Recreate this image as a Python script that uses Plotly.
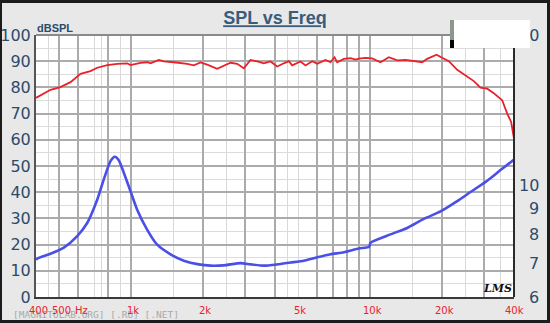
import math
import plotly.graph_objects as go

# SPL response (Hz, dB SPL)
spl_freq = [400, 405, 460, 506, 558, 614, 676, 722, 795, 875, 963, 994, 1094, 1168, 1206,
            1306, 1370, 1509, 1717, 1830, 1952, 2082, 2292, 2605, 2779, 2962, 3159, 3370,
            3592, 3830, 4085, 4355, 4569, 4720, 5115, 5369, 5724, 6009, 6508, 6829, 7097,
            7284, 7764, 8281, 8690, 8970, 9560, 10200, 11050, 11980, 12980, 14070, 15240,
            16520, 17330, 18960, 20030, 21350, 23140, 25080, 27160, 28960, 30900, 32920,
            35690, 37470, 38920, 40000]
spl_db = [76.0, 76.3, 79.1, 80.1, 82.0, 85.2, 86.2, 87.5, 88.5, 89.0, 89.2, 88.5, 89.4, 89.6, 89.2,
          90.5, 89.9, 89.6, 89.0, 88.4, 89.5, 88.7, 87.1, 89.4, 89.0, 87.3, 90.5, 89.9,
          89.2, 89.9, 88.0, 89.2, 90.0, 88.4, 89.9, 88.4, 90.0, 89.0, 90.5, 89.6, 91.5,
          89.6, 90.9, 91.2, 90.6, 91.0, 91.3, 91.1, 89.6, 91.5, 90.3, 90.5, 90.0,
          89.6, 90.9, 92.5, 91.3, 90.0, 86.7, 84.6, 82.4, 79.9, 79.5, 77.8,
          75.1, 70.0, 66.8, 60.5]

# Impedance (Hz, ohm)
imp_freq = [400, 405, 460, 523, 595, 655, 722, 768, 820, 855, 888, 932, 994, 1060, 1168, 1286,
            1462, 1661, 1920, 2149, 2436, 2869, 3159, 3592, 4085, 4645, 5279, 6009, 6829,
            7764, 8970, 9900, 10050, 12170, 14300, 16780, 19700, 23140, 26310, 30900,
            35120, 40000]
imp_ohm = [7.12, 7.16, 7.32, 7.53, 7.94, 8.43, 9.39, 10.29, 11.20, 11.43, 11.25, 10.62, 9.76, 8.96, 8.17, 7.63,
           7.30, 7.09, 6.97, 6.93, 6.94, 7.01, 6.97, 6.93, 6.97, 7.03, 7.09, 7.20, 7.30,
           7.37, 7.50, 7.56, 7.70, 8.00, 8.24, 8.59, 8.89, 9.32, 9.72, 10.24,
           10.75, 11.28]

# Axis ticks and labels
freq_label_vals = [400, 500, 1000, 2000, 5000, 10000, 20000, 40000]
freq_label_text = ["400", "500", "1k", "2k", "5k", "10k", "20k", "40k"]
freq_unit = "Hz"
grid_major = [500, 600, 800, 1000, 2000, 3000, 4000, 6000, 7000, 8000, 9000,
              10000, 20000, 30000]
grid_minor = [450, 700, 750, 900, 1500, 2500, 4500, 5000, 15000, 25000, 35000]
db_ticks = list(range(0, 101, 10))
db_minor = list(range(5, 100, 10))
ohm_ticks = [6, 7, 8, 9, 10, 20]
ohm_text = ["6", "7", "8", "9", "10", "20"]

W, H = 550, 323
L, R, T, B = 36, 514, 35, 297


def px(x):
    return (x - L) / (R - L)


def py(y):
    return (B - y) / (B - T)


label_blue = "#2c4b6b"
label_font = dict(family="DejaVu Sans", size=16, color=label_blue)

fig = go.Figure()
fig.add_trace(go.Scatter(x=spl_freq, y=spl_db, mode="lines",
                         line=dict(color="#e8212b", width=1.8), yaxis="y"))
fig.add_trace(go.Scatter(x=imp_freq, y=imp_ohm, mode="lines",
                         line=dict(color="#4a4fe6", width=2.6, shape="spline", smoothing=0.6),
                         yaxis="y2"))

annotations = []
# watermark along the bottom edge
annotations.append(dict(xref="paper", yref="paper", x=px(11), y=py(314), xanchor="left",
                        yanchor="middle", showarrow=False, text="[MAGNITOLAB.ORG] [.RU] [.NET]",
                        font=dict(family="DejaVu Sans Mono", size=9.5, color="#a9a9a9")))
# frequency labels
for f, t in zip(freq_label_vals, freq_label_text):
    annotations.append(dict(xref="x", yref="paper", x=math.log10(f), y=py(310),
                            xanchor="center", yanchor="middle", showarrow=False, text=t,
                            xshift=2 if f < 40000 else 0,
                            font=dict(family="DejaVu Sans", size=10, color="#e8212b")))
annotations.append(dict(xref="x", yref="paper", x=math.log10(500), y=py(310),
                        xanchor="left", yanchor="middle", showarrow=False, text=freq_unit,
                        xshift=14, font=dict(family="DejaVu Sans", size=10, color="#e8212b")))
# impedance scale on the right
for v, t in zip(ohm_ticks, ohm_text):
    annotations.append(dict(xref="paper", yref="y2", x=px(541), y=math.log10(v),
                            xanchor="right", yanchor="middle", showarrow=False, text=t,
                            font=label_font))
# blank box over the top right corner
annotations.append(dict(xref="paper", yref="paper", x=px(454), y=py(20), xanchor="left",
                        yanchor="top", showarrow=False, text="", width=76, height=28,
                        bgcolor="white", borderpad=0, borderwidth=0))
# unit label and logo
annotations.append(dict(xref="paper", yref="paper", x=px(35), y=py(28), xanchor="left",
                        yanchor="middle", showarrow=False, text="<b>dBSPL</b>",
                        font=dict(family="Liberation Sans", size=11, color=label_blue)))
annotations.append(dict(xref="paper", yref="paper", x=px(497), y=py(288), xanchor="center",
                        yanchor="middle", showarrow=False, text="<b><i>LMS</i></b>",
                        font=dict(family="DejaVu Serif", size=11, color="#111111")))

shapes = [
    # frame of the plot area (top and right)
    dict(type="line", xref="paper", yref="paper", x0=0, x1=1, y0=1, y1=1,
         line=dict(color="#8a8a8a", width=2)),
    dict(type="line", xref="paper", yref="paper", x0=1, x1=1, y0=0, y1=1,
         line=dict(color="#2a2a2a", width=2)),
    # small marker bar beside the blank box
    dict(type="rect", xref="paper", yref="paper", x0=px(450), x1=px(454), y0=py(40), y1=py(20),
         fillcolor="#8b988b", line=dict(width=0)),
    dict(type="rect", xref="paper", yref="paper", x0=px(450), x1=px(454), y0=py(48), y1=py(40),
         fillcolor="#050505", line=dict(width=0)),
    # outer dark border
    dict(type="rect", xref="paper", yref="paper", x0=px(0), x1=px(W), y0=py(3), y1=py(0),
         fillcolor="#1c1c1c", line=dict(width=0)),
    dict(type="rect", xref="paper", yref="paper", x0=px(0), x1=px(W), y0=py(H), y1=py(320),
         fillcolor="#1c1c1c", line=dict(width=0)),
    dict(type="rect", xref="paper", yref="paper", x0=px(0), x1=px(2), y0=py(H), y1=py(0),
         fillcolor="#1c1c1c", line=dict(width=0)),
    dict(type="rect", xref="paper", yref="paper", x0=px(547), x1=px(W), y0=py(H), y1=py(0),
         fillcolor="#1c1c1c", line=dict(width=0)),
]

fig.update_layout(
    width=W, height=H,
    margin=dict(l=L, r=W - R, t=T, b=H - B, pad=0, autoexpand=False),
    paper_bgcolor="#e8e8e8",
    plot_bgcolor="white",
    showlegend=False,
    title=dict(text="<b><u>SPL vs Freq</u></b>", x=0.5, xref="paper", xanchor="center",
               y=1 - 18 / H, yref="container", yanchor="middle", automargin=False,
               font=dict(family="Liberation Sans", size=18, color="#3a5c7c")),
    xaxis=dict(type="log", range=[math.log10(400), math.log10(40000)], automargin=False,
               tickvals=grid_major, showticklabels=False, ticks="",
               showgrid=True, gridcolor="#ababab", gridwidth=1.5,
               minor=dict(tickvals=grid_minor, showgrid=True, gridcolor="#d9d9d9",
                          gridwidth=1, ticks=""),
               showline=True, linecolor="#3a3a3a", linewidth=2, zeroline=False),
    yaxis=dict(range=[0, 100], tickvals=db_ticks, ticks="", tickfont=label_font,
               automargin=False,
               showgrid=True, gridcolor="#ababab", gridwidth=1.5,
               minor=dict(tickvals=db_minor, showgrid=True, gridcolor="#dcdcdc",
                          gridwidth=1, ticks=""),
               showline=True, linecolor="#555555", linewidth=2, zeroline=False),
    yaxis2=dict(type="log", range=[math.log10(6), math.log10(20)], overlaying="y",
                side="right", showgrid=False, showticklabels=False, ticks="",
                automargin=False, zeroline=False),
    annotations=annotations,
    shapes=shapes,
)

fig.write_html("out.html")
